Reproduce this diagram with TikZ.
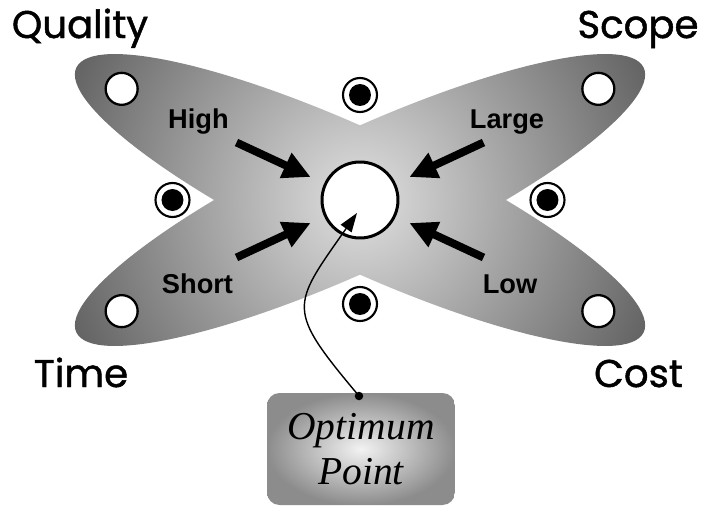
\documentclass[tikz,border=0pt]{standalone}
\usepackage{fontspec}
\usepackage{tikz}
\usetikzlibrary{arrows.meta}
\newfontfamily\cornerfont{Poppins}[FakeBold=1.2]
\newfontfamily\tagfont{Liberation Sans}
\newfontfamily\boxfont{Liberation Serif}

\begin{document}
\begin{tikzpicture}[
  corner/.style={font=\cornerfont\fontsize{22}{25}\selectfont, anchor=base},
  tag/.style={font=\tagfont\bfseries\fontsize{15.5}{18}\selectfont, anchor=base},
  endpt/.style={circle, draw, line width=1.3pt, fill=white, minimum size=0.64cm, inner sep=0pt},
  target/.style={circle, draw, line width=1.2pt, fill=white, minimum size=0.68cm, inner sep=0pt,
    path picture={\fill[black] (path picture bounding box.center) circle (0.22);}},
  push/.style={-{Triangle[length=0.55cm,width=0.52cm]}, line width=4.5pt, shorten >=0.3cm},
  link/.style={-{Triangle[length=0.38cm,width=0.26cm]}, line width=0.8pt},
]
\useasboundingbox (0,0) rectangle (14.1,10.12);

\begin{scope}[shift={(7.2,6.12)}]
% Two crossed lobes, light in the middle and dark at the ends
\begin{scope}
\clip (0,0) circle[x radius=6.26, y radius=1.36, rotate=25]
      (0,0) circle[x radius=6.26, y radius=1.36, rotate=-25];
\shade[inner color=black!12, outer color=black!62] (0,0) circle (6.4);
\end{scope}

% Optimum point in the middle
\node[circle, draw, line width=1.7pt, fill=white, minimum size=1.52cm] (opt) at (0,0) {};

% Open circles at the four ends
\foreach \ang/\nm in {155/q, 25/s, 205/t, -25/c} {
  \node[endpt] (end\nm) at (\ang:5.26) {};
}
% Targets between the lobes
\foreach \p/\nm in {(0,2.1)/n, (0,-2.08)/s, (-3.75,0)/w, (3.75,0)/e} {
  \node[target] (dot\nm) at \p {};
}

% Pushing arrows
\coordinate (highend) at (-2.47,1.15);
\coordinate (largeend) at (2.47,1.15);
\coordinate (shortend) at (-2.47,-1.15);
\coordinate (lowend) at (2.47,-1.15);
\foreach \e in {highend, largeend, shortend, lowend} {
  \draw[push] (\e) -- (opt);
}
\node[tag] (high) at (-3.23,1.44) {High};
\node[tag] (large) at (2.94,1.44) {Large};
\node[tag] (short) at (-3.25,-1.86) {Short};
\node[tag] (low) at (3.0,-1.86) {Low};

% Corner labels
\node[corner] (quality) at (-5.6,3.24) {Quality};
\node[corner] (scope) at (5.56,3.24) {Scope};
\node[corner] (time) at (-5.58,-3.74) {Time};
\node[corner] (cost) at (5.57,-3.74) {Cost};

% Callout box
\node[rounded corners=0.25cm, inner color=black!5, outer color=black!45,
  minimum width=3.76cm, minimum height=2.24cm, align=center,
  font=\boxfont\itshape\fontsize{22.5}{25.6}\selectfont] (optbox) at (0.02,-4.98) {Optimum\\Point};
\coordinate (pin) at (-0.02,-3.92);
\coordinate (optin) at (-0.06,-0.26);
\fill (pin) circle (0.085);
\draw[link] (pin) to[out=130, in=235, looseness=1.6] (optin);
\end{scope}
\end{tikzpicture}
\end{document}
